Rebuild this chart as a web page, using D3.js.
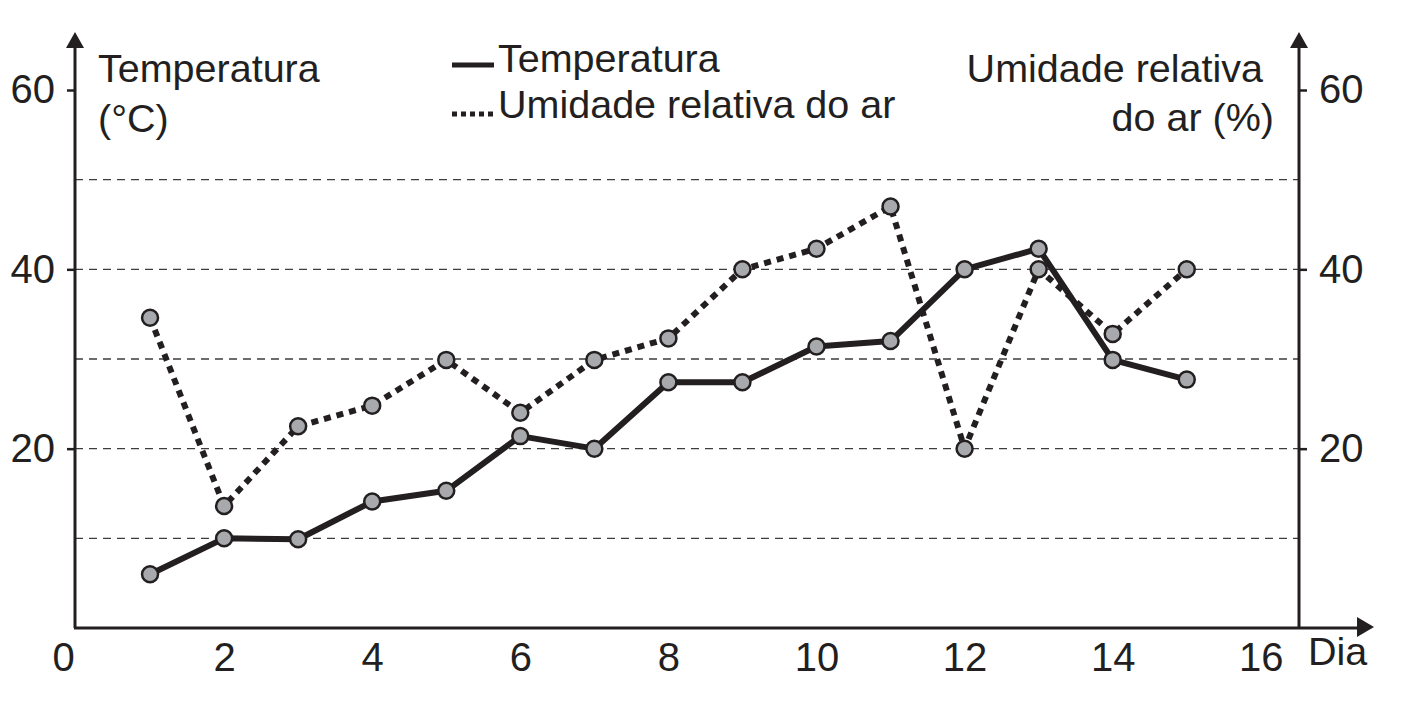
<!DOCTYPE html>
<html>
<head>
<meta charset="utf-8">
<script src="https://cdn.jsdelivr.net/npm/d3@7"></script>
<style>
  body { margin: 0; background: #fff; }
  svg { display: block; font-family: "Liberation Sans", Arial, Helvetica, sans-serif; }
</style>
</head>
<body>
<svg id="canvas" width="1403" height="720"></svg>
<script>
let dias = [1, 2, 3, 4, 5, 6, 7, 8, 9, 10, 11, 12, 13, 14, 15]
let temperatura = [6, 10, 9.9, 14.1, 15.3, 21.4, 20, 27.4, 27.4, 31.4, 32, 40, 42.3, 29.9, 27.7]
let umidade = [34.6, 13.6, 22.5, 24.8, 29.9, 24, 29.9, 32.3, 40, 42.3, 47, 20, 40, 32.8, 40]
let xTicks = [0, 2, 4, 6, 8, 10, 12, 14, 16]
let yTicks = [20, 40, 60]
let gridValues = [10, 20, 30, 40, 50]

let ink = '#231f20'
let canvas = d3.select('#canvas')

let xAxisX0 = 75, xAxisX1 = 1299, yBase = 628, yTop = 32

let x = d3.scaleLinear().domain([0, 16]).range([76, 1260.8])
let y = d3.scaleLinear().domain([0, 60]).range([628, 90])

// grid
canvas.append('g')
    .selectAll('line')
    .data(gridValues)
    .enter()
    .append('line')
    .attr('x1', xAxisX0)
    .attr('x2', xAxisX1)
    .attr('y1', (d) => y(d))
    .attr('y2', (d) => y(d))
    .attr('stroke', '#3d3d3d')
    .attr('stroke-width', 1.4)
    .attr('stroke-dasharray', '8,6')

// axis ticks
let leftAxis = canvas.append('g')
    .attr('transform', 'translate(' + xAxisX0 + ',0)')
    .call(d3.axisLeft(y).tickValues(yTicks).tickSize(8).tickPadding(12))
let rightAxis = canvas.append('g')
    .attr('transform', 'translate(' + xAxisX1 + ',0)')
    .call(d3.axisRight(y).tickValues(yTicks).tickSize(8).tickPadding(12))
let bottomAxis = canvas.append('g')
    .attr('transform', 'translate(0,' + yBase + ')')
    .call(d3.axisBottom(x).tickValues(xTicks).tickSize(0).tickPadding(15))

;[leftAxis, rightAxis, bottomAxis].forEach((g) => {
    g.select('.domain').remove()
    g.selectAll('line').attr('stroke', ink).attr('stroke-width', 2.5)
    g.selectAll('text')
        .attr('fill', ink)
        .style('font-size', '40px')
        .style('font-family', '"Liberation Sans", Arial, Helvetica, sans-serif')
})
bottomAxis.selectAll('.tick')
    .filter((d) => d === 0)
    .select('text')
    .attr('x', -13)

// axis lines with arrows
let axisLines = [
    [xAxisX0, yBase, xAxisX0, yTop + 12],
    [xAxisX1, yBase, xAxisX1, yTop + 12],
    [xAxisX0 - 1, yBase, 1360, yBase]
]
canvas.append('g')
    .selectAll('line')
    .data(axisLines)
    .enter()
    .append('line')
    .attr('x1', (d) => d[0])
    .attr('y1', (d) => d[1])
    .attr('x2', (d) => d[2])
    .attr('y2', (d) => d[3])
    .attr('stroke', ink)
    .attr('stroke-width', 3)

let arrows = [
    [[xAxisX0, yTop], [xAxisX0 - 9, yTop + 16], [xAxisX0 + 9, yTop + 16]],
    [[xAxisX1, yTop], [xAxisX1 - 9, yTop + 16], [xAxisX1 + 9, yTop + 16]],
    [[1374, yBase - 1], [1357, yBase - 11], [1357, yBase + 9]]
]
canvas.append('g')
    .selectAll('path')
    .data(arrows)
    .enter()
    .append('path')
    .attr('d', (d) => 'M' + d.join('L') + 'Z')
    .attr('fill', ink)

// lines
let line = d3.line()
    .x((d) => x(d[0]))
    .y((d) => y(d[1]))

let tempPoints = dias.map((d, i) => [d, temperatura[i]])
let umidPoints = dias.map((d, i) => [d, umidade[i]])

canvas.append('path')
    .datum(umidPoints)
    .attr('d', line)
    .attr('fill', 'none')
    .attr('stroke', ink)
    .attr('stroke-width', 6)
    .attr('stroke-dasharray', '7,6')

canvas.append('path')
    .datum(tempPoints)
    .attr('d', line)
    .attr('fill', 'none')
    .attr('stroke', ink)
    .attr('stroke-width', 6)
    .attr('stroke-linejoin', 'round')

// markers
canvas.append('g')
    .selectAll('circle')
    .data(umidPoints.concat(tempPoints))
    .enter()
    .append('circle')
    .attr('cx', (d) => x(d[0]))
    .attr('cy', (d) => y(d[1]))
    .attr('r', 8)
    .attr('fill', '#a7a9ac')
    .attr('stroke', ink)
    .attr('stroke-width', 2.5)

// texts
let labels = [
    ['Temperatura', 98, 82, 'start'],
    ['(°C)', 98, 132, 'start'],
    ['Umidade relativa', 1263, 82, 'end'],
    ['do ar (%)', 1274, 131, 'end'],
    ['Temperatura', 498, 72, 'start'],
    ['Umidade relativa do ar', 498, 118, 'start'],
    ['Dia', 1308, 665, 'start']
]
canvas.append('g')
    .selectAll('text')
    .data(labels)
    .enter()
    .append('text')
    .text((d) => d[0])
    .attr('x', (d) => d[1])
    .attr('y', (d) => d[2])
    .attr('text-anchor', (d) => d[3])
    .attr('fill', ink)
    .style('font-size', '39.5px')

// legend samples
canvas.append('line')
    .attr('x1', 452).attr('x2', 494)
    .attr('y1', 65).attr('y2', 65)
    .attr('stroke', ink).attr('stroke-width', 5)
canvas.append('line')
    .attr('x1', 452).attr('x2', 497)
    .attr('y1', 114).attr('y2', 114)
    .attr('stroke', ink).attr('stroke-width', 5)
    .attr('stroke-dasharray', '5,4')
</script>
</body>
</html>
